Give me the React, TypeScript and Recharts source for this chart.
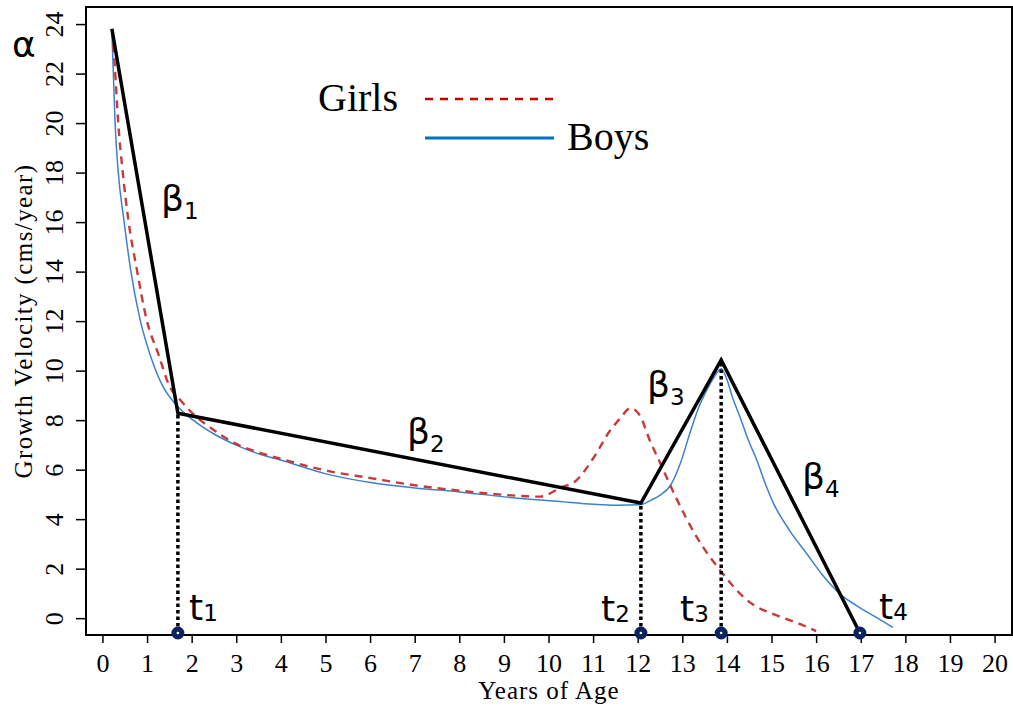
import React from 'react';
import { ComposedChart, Line, XAxis, YAxis, ReferenceLine, ReferenceArea, Scatter } from 'recharts';

// ---- data ----
const boysAge = [0.2, 0.23, 0.27, 0.34, 0.47, 0.62, 0.83, 1.05, 1.35, 1.61, 1.8, 2.0, 2.5, 3.0, 3.5, 4.0, 5.0, 6.0, 7.0, 8.0, 9.0, 10.25, 11.0, 11.5, 12.04, 12.3, 12.5, 12.71, 12.95, 13.16, 13.35, 13.54, 13.7, 13.86, 14.0, 14.12, 14.28, 14.45, 14.66, 14.85, 15.03, 15.4, 15.78, 16.15, 16.52, 16.9, 17.27, 17.71];
const boysVel = [23.7, 22.2, 20.1, 18.1, 16.1, 14.1, 12.1, 10.7, 9.36, 8.7, 8.35, 8.05, 7.45, 7.0, 6.65, 6.4, 5.85, 5.5, 5.28, 5.12, 4.92, 4.73, 4.62, 4.58, 4.6, 4.8, 5.0, 5.35, 6.3, 7.5, 8.5, 9.24, 9.75, 10.1, 9.6, 8.9, 8.16, 7.3, 6.4, 5.45, 4.67, 3.55, 2.62, 1.72, 1.0, 0.52, 0.12, -0.35];

const girlsAge = [0.23, 0.27, 0.34, 0.44, 0.57, 0.76, 0.98, 1.24, 1.5, 1.73, 1.95, 2.5, 3.0, 3.52, 4.0, 5.09, 6.0, 6.95, 8.0, 9.0, 9.8, 10.25, 10.62, 11.0, 11.37, 11.6, 11.82, 11.97, 12.04, 12.26, 12.49, 12.8, 13.31, 13.83, 14.43, 15.18, 15.6, 15.99];
const girlsVel = [23.2, 22.2, 20.1, 18.1, 16.1, 14.1, 12.07, 10.7, 9.36, 8.84, 8.4, 7.6, 7.05, 6.7, 6.45, 5.95, 5.68, 5.4, 5.17, 5.0, 4.93, 5.28, 5.6, 6.5, 7.6, 8.1, 8.5, 8.36, 8.2, 7.2, 6.3, 5.07, 3.3, 1.97, 0.76, 0.08, -0.2, -0.5];

const knotAge = [0.2, 1.68, 12.06, 13.86, 16.97];
const knotVel = [23.83, 8.3, 4.67, 10.45, -0.58];
const baseVel = -0.58;

const xTicks = [0, 1, 2, 3, 4, 5, 6, 7, 8, 9, 10, 11, 12, 13, 14, 15, 16, 17, 18, 19, 20];
const yTicks = [0, 2, 4, 6, 8, 10, 12, 14, 16, 18, 20, 22, 24];
const xDomain = [-0.38, 20.38];
const yDomain = [-0.66, 24.71];

const boysData = boysAge.map((x, i) => ({ x, y: boysVel[i] }));
const girlsData = girlsAge.map((x, i) => ({ x, y: girlsVel[i] }));
const knotData = knotAge.map((x, i) => ({ x, y: knotVel[i] }));
const tData = knotAge.slice(1).map((x) => ({ x, y: baseVel }));

const SERIF = '"Liberation Serif", "DejaVu Serif", serif';
const SANS = '"DejaVu Sans", sans-serif';
const NAVY = '#0b2460';
const RED = '#c63a3a';
const BLUE = '#3f80cc';

const YTick = (props: any) => {
  const { x, y, payload } = props;
  return (
    <text x={x} y={y} transform={`rotate(-90, ${x}, ${y})`} textAnchor="middle"
      fontFamily={SERIF} fontSize={26} fill="#000">{payload.value}</text>
  );
};

const XTick = (props: any) => {
  const { x, y, payload } = props;
  return (
    <text x={x} y={y} dy="0.71em" textAnchor="middle" fontFamily={SERIF} fontSize={26} fill="#000">{payload.value}</text>
  );
};

const TDot = (props: any) => {
  const { cx, cy } = props;
  return (
    <g>
      <circle cx={cx} cy={cy} r={5.5} fill={NAVY} stroke={NAVY} strokeWidth={2} />
      <circle cx={cx} cy={cy} r={1.3} fill="#fff" />
    </g>
  );
};

const Sym = ({ x, y, main, sub, dy }: { x: number; y: number; main: string; sub: string; dy: number }) => (
  <text x={x} y={y} fontFamily={SANS} fontSize={36} fill="#000">
    {main}
    <tspan dy={dy} fontSize={23}>{sub}</tspan>
  </text>
);

export default function App() {
  return (
    <div style={{ position: 'absolute', left: 0, top: 0, width: 1013, height: 710, background: '#fff' }}>
      <ComposedChart width={1013} height={710} margin={{ top: 7, right: 1, bottom: 0, left: 0 }}>
        <XAxis type="number" dataKey="x" domain={xDomain} ticks={xTicks} interval={0}
          height={75} tickSize={8} tickMargin={11} tick={<XTick />}
          axisLine={{ stroke: '#000', strokeWidth: 2 }} tickLine={{ stroke: '#000', strokeWidth: 1.5 }} />
        <YAxis type="number" dataKey="y" domain={yDomain} ticks={yTicks} interval={0}
          width={86} tickSize={10} tickMargin={13} tick={<YTick />}
          axisLine={{ stroke: '#000', strokeWidth: 2 }} tickLine={{ stroke: '#000', strokeWidth: 1.5 }} />
        <ReferenceArea x1={xDomain[0]} x2={xDomain[1]} y1={yDomain[0]} y2={yDomain[1]}
          fill="none" fillOpacity={0} stroke="#000" strokeWidth={2} ifOverflow="visible" />
        <Line data={boysData} dataKey="y" type="monotone" stroke={BLUE} strokeWidth={1.5} dot={false} isAnimationActive={false} />
        <Line data={girlsData} dataKey="y" type="monotone" stroke={RED} strokeWidth={2.4} strokeDasharray="8 6" dot={false} isAnimationActive={false} />
        {knotAge.slice(1, 4).map((a, i) => (
          <ReferenceLine key={a} segment={[{ x: a, y: baseVel }, { x: a, y: knotVel[i + 1] }]}
            stroke="#000" strokeWidth={3.5} strokeDasharray="3.5 3" ifOverflow="visible" />
        ))}
        <Line data={knotData} dataKey="y" type="linear" stroke="#000" strokeWidth={3.5} dot={false} isAnimationActive={false} />
        <Scatter data={tData} dataKey="y" shape={<TDot />} isAnimationActive={false} />
      </ComposedChart>
      <svg width={1013} height={710} style={{ position: 'absolute', left: 0, top: 0, pointerEvents: 'none' }}>
        <text x={549} y={699} textAnchor="middle" fontFamily={SERIF} fontSize={25} letterSpacing={1} fill="#000">Years of Age</text>
        <text x={32} y={321} transform="rotate(-90, 32, 321)" textAnchor="middle" fontFamily={SERIF} fontSize={25} letterSpacing={1.4} fill="#000">Growth Velocity (cms/year)</text>
        <text x={318} y={111} fontFamily={SERIF} fontSize={40} fill="#000">Girls</text>
        <line x1={425} x2={554} y1={99} y2={99} stroke="#c00000" strokeWidth={2.5} strokeDasharray="8 7" />
        <line x1={425} x2={554} y1={138} y2={138} stroke="#0072bd" strokeWidth={2.8} />
        <text x={567} y={150} fontFamily={SERIF} fontSize={40} fill="#000">Boys</text>
        <text x={12} y={57} fontFamily={SANS} fontSize={36} fill="#000">α</text>
        <Sym x={161} y={211} main="β" sub="1" dy={8} />
        <Sym x={407} y={444} main="β" sub="2" dy={8} />
        <Sym x={647} y={397} main="β" sub="3" dy={8} />
        <Sym x={802} y={489} main="β" sub="4" dy={8} />
        <Sym x={189} y={620} main="t" sub="1" dy={1} />
        <Sym x={601} y={621} main="t" sub="2" dy={1} />
        <Sym x={680} y={621} main="t" sub="3" dy={1} />
        <Sym x={879} y={619} main="t" sub="4" dy={1} />
      </svg>
    </div>
  );
}
